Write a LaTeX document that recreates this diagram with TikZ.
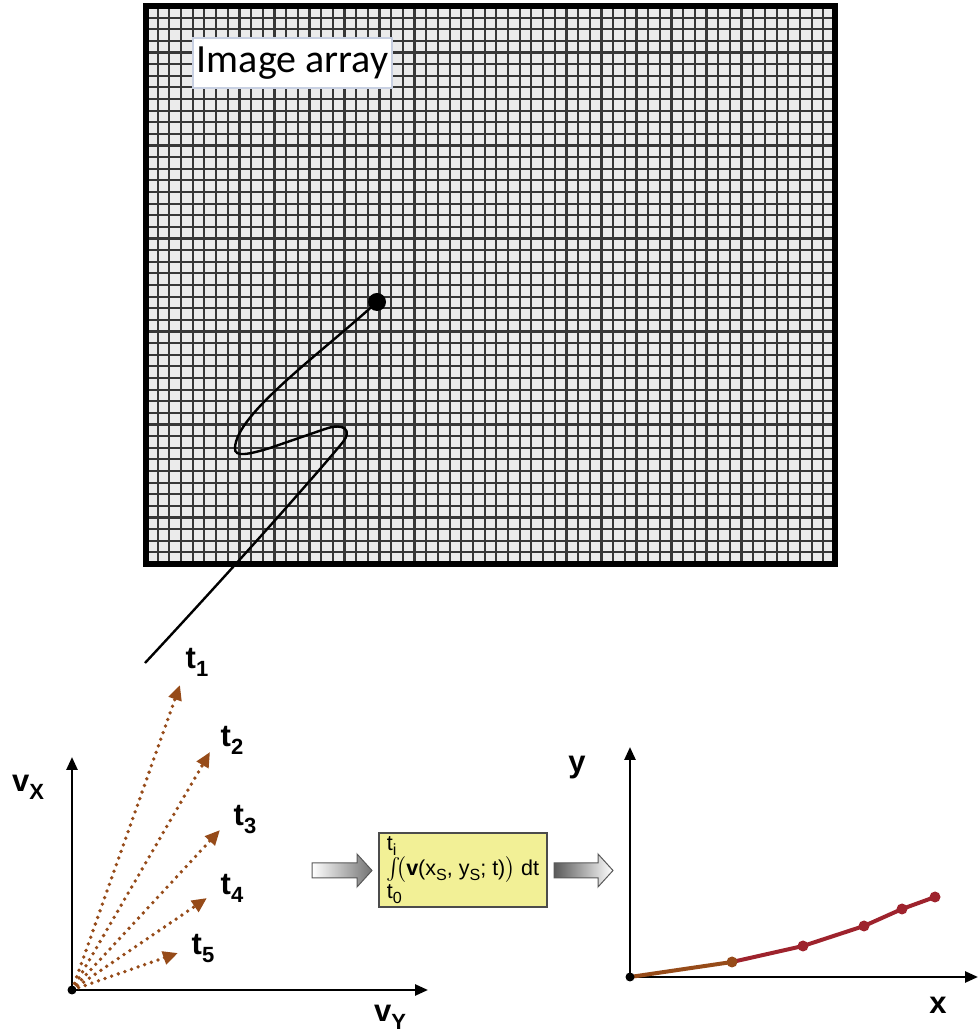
\documentclass[tikz,border=0pt]{standalone}
\usepackage{fontspec}
\setmainfont{Liberation Sans}
\newfontfamily\calibrifont{Carlito}
\usepackage{amsmath}
\usetikzlibrary{arrows.meta}

\definecolor{gridfill}{RGB}{235,235,235}
\definecolor{gridline}{RGB}{55,55,55}
\definecolor{labelframe}{RGB}{200,208,226}
\definecolor{trackbrown}{RGB}{150,75,25}
\definecolor{trackred}{RGB}{158,35,45}
\definecolor{boxyellow}{RGB}{242,240,150}

\newcommand{\sublabel}[2]{#1\raisebox{-8pt}{\fontsize{22}{22}\selectfont #2}}
\newcommand{\smallsub}[1]{\raisebox{-2.2pt}{\fontsize{7.5}{8}\selectfont #1}}
\newcommand{\limitstack}{$\vcenter{\baselineskip=11.2pt
    \hbox{t\smallsub{i}}\hbox{$\int$}\hbox{t\smallsub{0}}}$}

\begin{document}
\begin{tikzpicture}[
        x=1pt, y=1pt,
        gridline/.style={draw=gridline, line width=2.2pt},
        labelbox/.style={draw=labelframe, fill=white, line width=1.5pt, minimum width=199pt, minimum height=50pt, inner sep=0pt, font=\calibrifont\fontsize{40}{40}\selectfont},
        axisline/.style={line width=2.6pt, -{Triangle[length=13pt,width=11pt]}},
        dotarrow/.style={trackbrown, line width=3.8pt, dash pattern=on 0pt off 7pt, line cap=round, -{Triangle[length=15pt,width=13pt]}},
        axislabel/.style={font=\fontsize{31}{32}\selectfont\bfseries, inner sep=0pt},
        formulabox/.style={draw=black!70, fill=boxyellow, line width=1.2pt, minimum width=168pt, minimum height=74pt, inner sep=0pt},
        blockarrow/.style={draw=black!65, line width=1pt},
        trackdot/.style={circle, fill, inner sep=0pt, minimum size=11pt}
    ]
        \useasboundingbox (0,0) rectangle (980,1034);

        % image array
        \fill[gridfill] (146,470) rectangle (835,1028);
        \foreach \i in {1,...,58}
            \draw[gridline] ({146+\i*11.678},470) -- ({146+\i*11.678},1028);
        \foreach \j in {1,...,47}
            \draw[gridline] (146,{470+\j*11.625}) -- (835,{470+\j*11.625});
        \draw[line width=6pt] (146,470) rectangle (835,1028);
        \node[labelbox] (imageLabel) at (292.5,971) {Image array};

        % track of the pixel
        \coordinate (startPoint) at (377,732);
        \coordinate (trackEnd) at (145,371);
        \draw[line width=2.4pt]
            (startPoint) .. controls (320,680) and (236,620) .. (235,586)
            .. controls (234,576) and (250,580) .. (270,586)
            -- (325,605)
            .. controls (345,612) and (352,603) .. (343,592)
            .. controls (300,540) and (200,430) .. (trackEnd);
        \node[circle, fill, inner sep=0pt, minimum size=18pt] (startDot) at (startPoint) {};

        % velocity plane
        \coordinate (originV) at (72,44);
        \coordinate (vxTip) at (72,277);
        \coordinate (vyTip) at (428,44);
        \draw[axisline] (originV) -- (vxTip);
        \draw[axisline] (originV) -- (vyTip);
        \foreach \tx/\ty/\lx/\ly/\k in {180/349/197/372/1, 210/282/232/294/2,
                220/204/245/214/3, 207/136/232/146/4, 178/81/203/86/5} {
            \coordinate (tip\k) at (\tx,\ty);
            \draw[dotarrow] (originV) -- (tip\k);
            \node[axislabel] (tLabel\k) at (\lx,\ly) {\sublabel{t}{\k}};
        }
        \node[circle, fill, inner sep=0pt, minimum size=9pt] (originVDot) at (originV) {};
        \node[axislabel] (vxLabel) at (28,247) {\sublabel{v}{X}};
        \node[axislabel] (vyLabel) at (390,17) {\sublabel{v}{Y}};

        % integration step
        \shadedraw[blockarrow, left color=white, right color=black!55]
            (312,156) -- (357,156) -- (357,147) -- (372,163.5)
            -- (357,180) -- (357,171) -- (312,171) -- cycle;
        \node[formulabox] (integBox) at (463,164)
            {\scalebox{2.15}{\limitstack\kern-2.5pt$\bigl($\textbf{v}(x\smallsub{S}, y\smallsub{S}; t)$\bigr)$ dt}};
        \shadedraw[blockarrow, left color=black!65, right color=white]
            (554,156) -- (598,156) -- (598,147) -- (613,163.5)
            -- (598,180) -- (598,171) -- (554,171) -- cycle;

        % position plane
        \coordinate (originXY) at (630,57);
        \coordinate (yTip) at (630,287);
        \coordinate (xTip) at (978,57);
        \draw[axisline] (originXY) -- (yTip);
        \draw[axisline] (originXY) -- (xTip);
        \node[axislabel] (yLabel) at (577,266) {y};
        \node[axislabel] (xLabel) at (938,29) {x};
        \coordinate (p1) at (732,72);
        \coordinate (p2) at (803,88);
        \coordinate (p3) at (864,108);
        \coordinate (p4) at (902,125);
        \coordinate (p5) at (935,137);
        \draw[trackbrown, line width=4pt] (originXY) -- (p1);
        \draw[trackred, line width=4pt, line join=round] (p1) -- (p2) -- (p3) -- (p4) -- (p5);
        \node[trackdot, trackbrown] (dot1) at (p1) {};
        \foreach \k in {2,...,5}
            \node[trackdot, trackred] (dot\k) at (p\k) {};
        \node[circle, fill, inner sep=0pt, minimum size=9pt] (originXYDot) at (originXY) {};
    \end{tikzpicture}
\end{document}
